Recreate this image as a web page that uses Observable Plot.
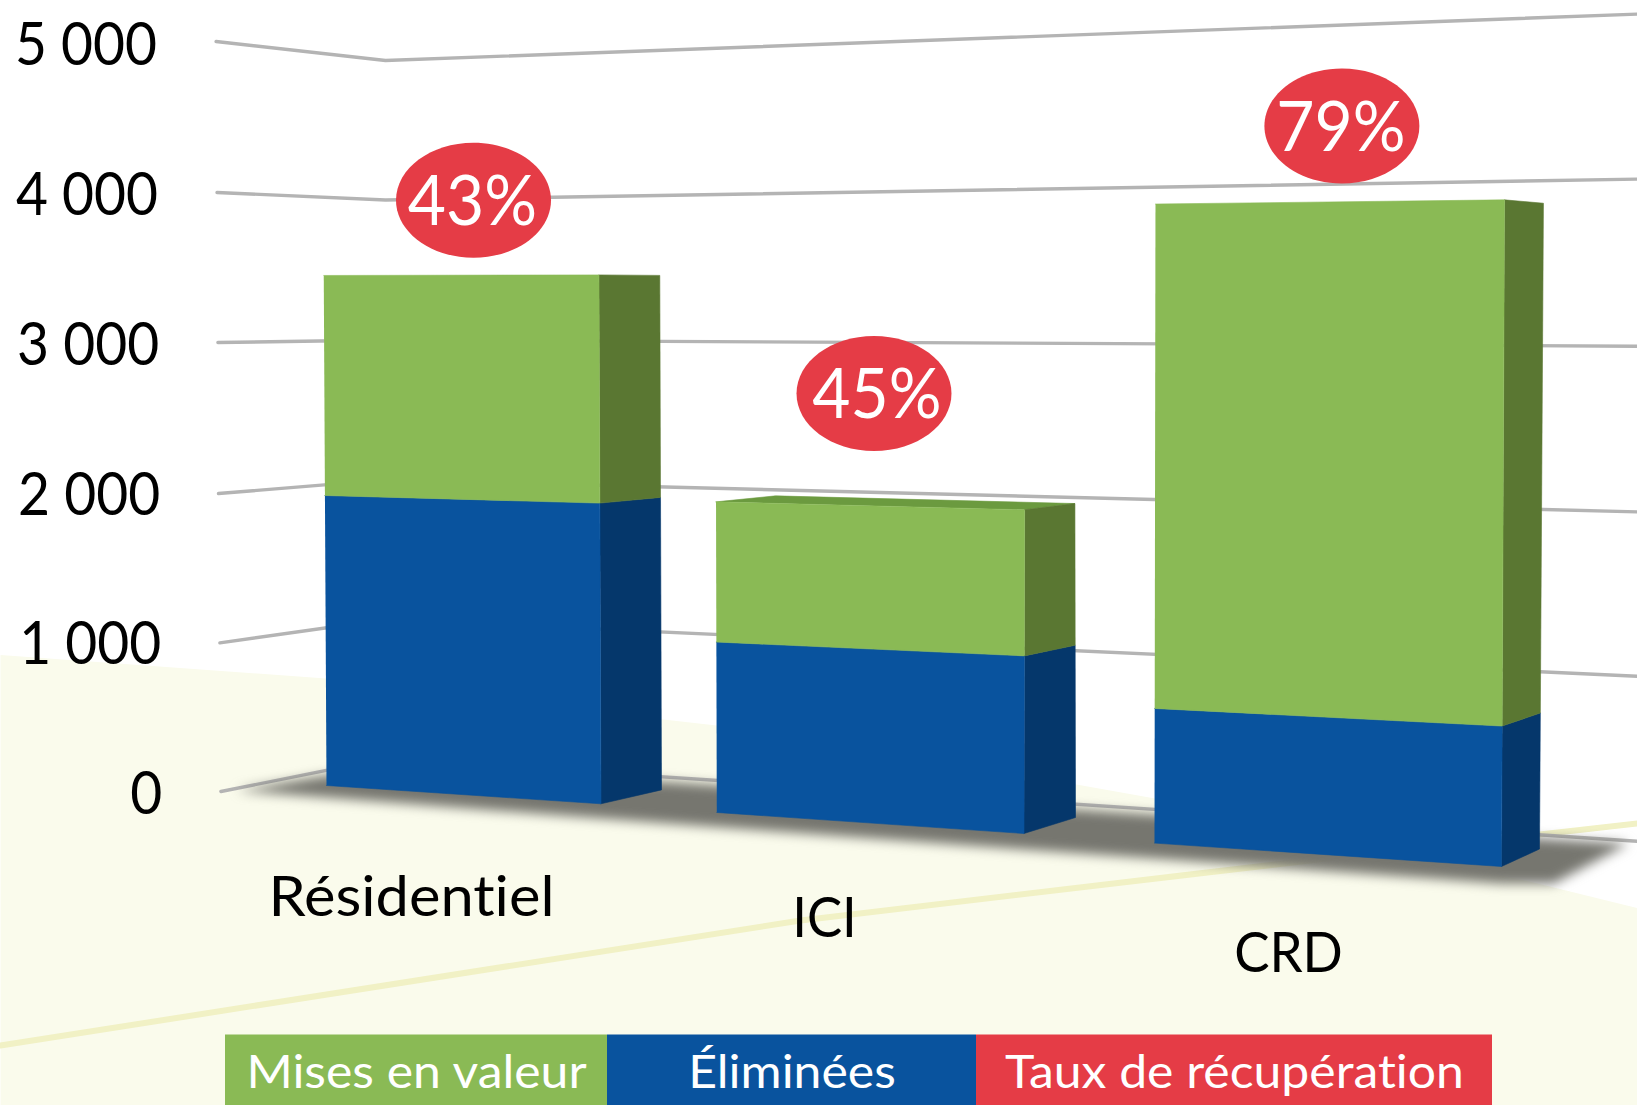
<!DOCTYPE html>
<html lang="fr">
<head>
<meta charset="utf-8">
<script src="https://cdn.jsdelivr.net/npm/d3@7"></script>
<script src="https://cdn.jsdelivr.net/npm/@observablehq/plot@0.6"></script>
<style>
html,body{margin:0;padding:0;background:#fff;overflow:hidden}
svg{display:block}
svg text{font-variant-ligatures:none}
.floor-shadow{filter:blur(6px)}
</style>
</head>
<body>
<div id="chart"></div>
<script>
// ---- Data
const categories = ["Résidentiel", "ICI", "CRD"];
const eliminees = [1950, 1070, 830];
const misesEnValeur = [1480, 880, 3110];
const tauxRecuperation = [43, 45, 79];
const ticks = [0, 1000, 2000, 3000, 4000, 5000];
const seriesLabels = ["Mises en valeur", "Éliminées", "Taux de récupération"];

// ---- Colours
const GREEN = "#8aba55", GREEN_SIDE = "#5a7732", GREEN_TOP = "#6b9a3f";
const BLUE = "#09539e", BLUE_SIDE = "#05376b";
const RED = "#e53c46", FLOOR = "#fafbec", STRIPE = "#f1f1c5", GRID = "#b4b4b4", SHADOW = "#76766f";
const seriesColors = [GREEN, BLUE, RED];

// ---- Pseudo-3D scene: the picture is a skewed perspective, so each bar has three
// vertical edges, each with its own origin [x, y], px per unit and lean per unit.
const barEdges = [
  {fl: [326, 785, .1487, -.0008], fr: [600.5, 803.3, .1542, -.0006], side: [661, 789.4, .15, -.0005]},
  {fl: [716.3, 812, .1593, -.0004], fr: [1023.5, 833, .166, .0003], side: [1075, 817, .161, -.0003], back: [775, 806, .1593, 0]},
  {fl: [1154, 842.6, .1622, .00025], fr: [1501, 866, .1692, .00076], side: [1539, 848.5, .1639, .001]}
];
const gridLeftX = [220.4, 219.4, 218, 217.4, 216.5, 215.6];
const gridLeftY = [791, 642.4, 493, 342, 192, 41];
const gridCornerX = 385;
const gridCornerY = [758, 619, 479.4, 339.5, 199.5, 60];
const gridRightX = 1637;
const gridRightY = [840.8, 675.7, 511.4, 345.7, 178.6, 13.6];
const tickRight = [161.8, 160.8, 159.7, 158.7, 157.6, 156.6];
const floorEdge = [[0, 654.5], [325.5, 678], [663, 719], [716, 725], [1076, 784], [1154.5, 798], [1531, 881.5], [1637, 907.6], [1637, 1105], [0, 1105]];
const stripeEdge = [[0, 1045], [800, 920], [1334, 857], [1637, 823]];
const shadowEdge = [[236, 790], [326, 775], [662, 781], [1154, 814], [1540, 838], [1628, 843], [1553, 883], [1501, 883], [1154, 858], [1024, 849], [601, 818], [326, 797]];
const bubbleX = [473, 873.5, 1341.4];
const bubbleY = [199.7, 393, 125.5];
const bubbleTextX = [472, 876.5, 1340.4];
const labelX = [411, 824, 1288];
const labelY = [898, 919, 954];
const labelStretch = [1.065, 0.94, 0.945];
const legendEdges = [225, 607, 976, 1492];

// y is the value ruler at the left of the picture; screen heights go through it too.
const Y0 = 792, Y5000 = 42.5;
const toValue = d3.scaleLinear([Y0, Y5000], [0, 5000]);
const pt = (id, color, x, y) => ({id, color, x, y: toValue(y)});
const at = (e, v) => [e[0] + e[3] * v, e[1] - e[2] * v];
const poly = (id, color, corners) => corners.map(([x, y]) => pt(id, color, x, y));

const bars = categories.flatMap((c, i) => {
  const e = barEdges[i], a = eliminees[i], t = a + misesEnValeur[i];
  const face = (n, col, p, q, v0, v1) => poly(`${c}-${n}`, col, [at(p, v0), at(q, v0), at(q, v1), at(p, v1)]);
  return [
    ...(e.back ? poly(`${c}-top`, GREEN_TOP, [at(e.fl, t), at(e.back, t), at(e.side, t), at(e.fr, t)]) : []),
    ...face("s1", BLUE_SIDE, e.fr, e.side, 0, a),
    ...face("s2", GREEN_SIDE, e.fr, e.side, a, t),
    ...face("f1", BLUE, e.fl, e.fr, 0, a),
    ...face("f2", GREEN, e.fl, e.fr, a, t)
  ];
});

const gridPoints = ticks.flatMap((t, i) => [
  {t, x: gridLeftX[i], y: toValue(gridLeftY[i])},
  {t, x: gridCornerX, y: toValue(gridCornerY[i])},
  {t, x: gridRightX, y: toValue(gridRightY[i])}
]);

// Ellipse as a symbol: the bubbles are wider than tall.
const ellipse = {draw(ctx, size) {
  const rx = Math.sqrt(size / Math.PI), ry = rx * 0.742, k = 0.5523;
  ctx.moveTo(rx, 0);
  ctx.bezierCurveTo(rx, ry * k, rx * k, ry, 0, ry);
  ctx.bezierCurveTo(-rx * k, ry, -rx, ry * k, -rx, 0);
  ctx.bezierCurveTo(-rx, -ry * k, -rx * k, -ry, 0, -ry);
  ctx.bezierCurveTo(rx * k, -ry, rx, -ry * k, rx, 0);
  ctx.closePath();
}};

const fontFamily = "Lato, Carlito, sans-serif";
const legend = seriesLabels.map((label, i) => ({label, x1: legendEdges[i], x2: legendEdges[i + 1], color: seriesColors[i]}));

const chart = Plot.plot({
  width: 1637, height: 1105,
  marginTop: 0, marginRight: 0, marginBottom: 0, marginLeft: 0,
  x: {domain: [0, 1637], range: [0, 1637], axis: null},
  y: {domain: [0, 5000], range: [Y0, Y5000]},
  color: {type: "identity"},
  style: {fontFamily, background: "#fff", overflow: "hidden"},
  marks: [
    Plot.line(poly("floor", FLOOR, floorEdge), {x: "x", y: "y", fill: FLOOR, stroke: "none"}),
    Plot.line(stripeEdge.map(([x, y]) => ({x, y: toValue(y)})), {x: "x", y: "y", stroke: STRIPE, strokeWidth: 6}),
    Plot.line(gridPoints, {x: "x", y: "y", z: "t", stroke: GRID, strokeWidth: 3.4, strokeLinejoin: "miter"}),
    Plot.line(poly("shadow", SHADOW, shadowEdge), {x: "x", y: "y", fill: SHADOW, stroke: "none", className: "floor-shadow"}),
    Plot.line(bars, {x: "x", y: "y", z: "id", fill: "color", stroke: "color", strokeWidth: 0.6}),
    ...ticks.map((t, i) => Plot.axisY([t], {
      anchor: "left", tickSize: 0, tickPadding: 0, dx: tickRight[i], dy: 2.5, fontSize: 56,
      textAnchor: "end", fill: "#000", label: null, className: "tick-label",
      tickFormat: d => d3.format(",")(d).replace(",", " ")
    })),
    Plot.text(categories, {
      x: (d, i) => labelX[i], y: (d, i) => toValue(labelY[i]), text: d => d,
      fontSize: 56, fill: "#000", textAnchor: "middle", lineAnchor: "middle", className: "cat-label"
    }),
    Plot.dot(tauxRecuperation, {
      x: (d, i) => bubbleX[i], y: (d, i) => toValue(bubbleY[i]),
      r: 77.5, symbol: ellipse, fill: RED, stroke: "none"
    }),
    Plot.text(tauxRecuperation, {
      x: (d, i) => bubbleTextX[i], y: (d, i) => toValue(bubbleY[i] + 2), text: d => `${d}%`,
      fontSize: 64, fill: "#fff", textAnchor: "middle", lineAnchor: "middle", className: "bubble-label"
    }),
    Plot.rect(legend, {x1: "x1", x2: "x2", y1: () => toValue(1034.5), y2: () => toValue(1105), fill: "color"}),
    Plot.text(legend, {
      x: d => (d.x1 + d.x2) / 2, y: () => toValue(1073), text: "label",
      fontSize: 46, fill: "#fff", textAnchor: "middle", lineAnchor: "middle", className: "legend-label"
    })
  ]
});

// The source picture is a stretched image, so its lettering is not at natural proportions.
const stretch = (sel, sx, sy) => d3.select(chart).selectAll(sel).each(function (_, i) {
  const t = this.getAttribute("transform") || "";
  const x = typeof sx === "function" ? sx(i) : sx;
  this.setAttribute("transform", `${t} scale(${x},${sy})`);
});
stretch(".tick-label text", 0.985, 1.08);
stretch(".cat-label text", i => labelStretch[i], 1);
stretch(".bubble-label text", 1.03, 1.1);
stretch(".legend-label text", 1.085, 1);
document.getElementById("chart").append(chart);
</script>
</body>
</html>
